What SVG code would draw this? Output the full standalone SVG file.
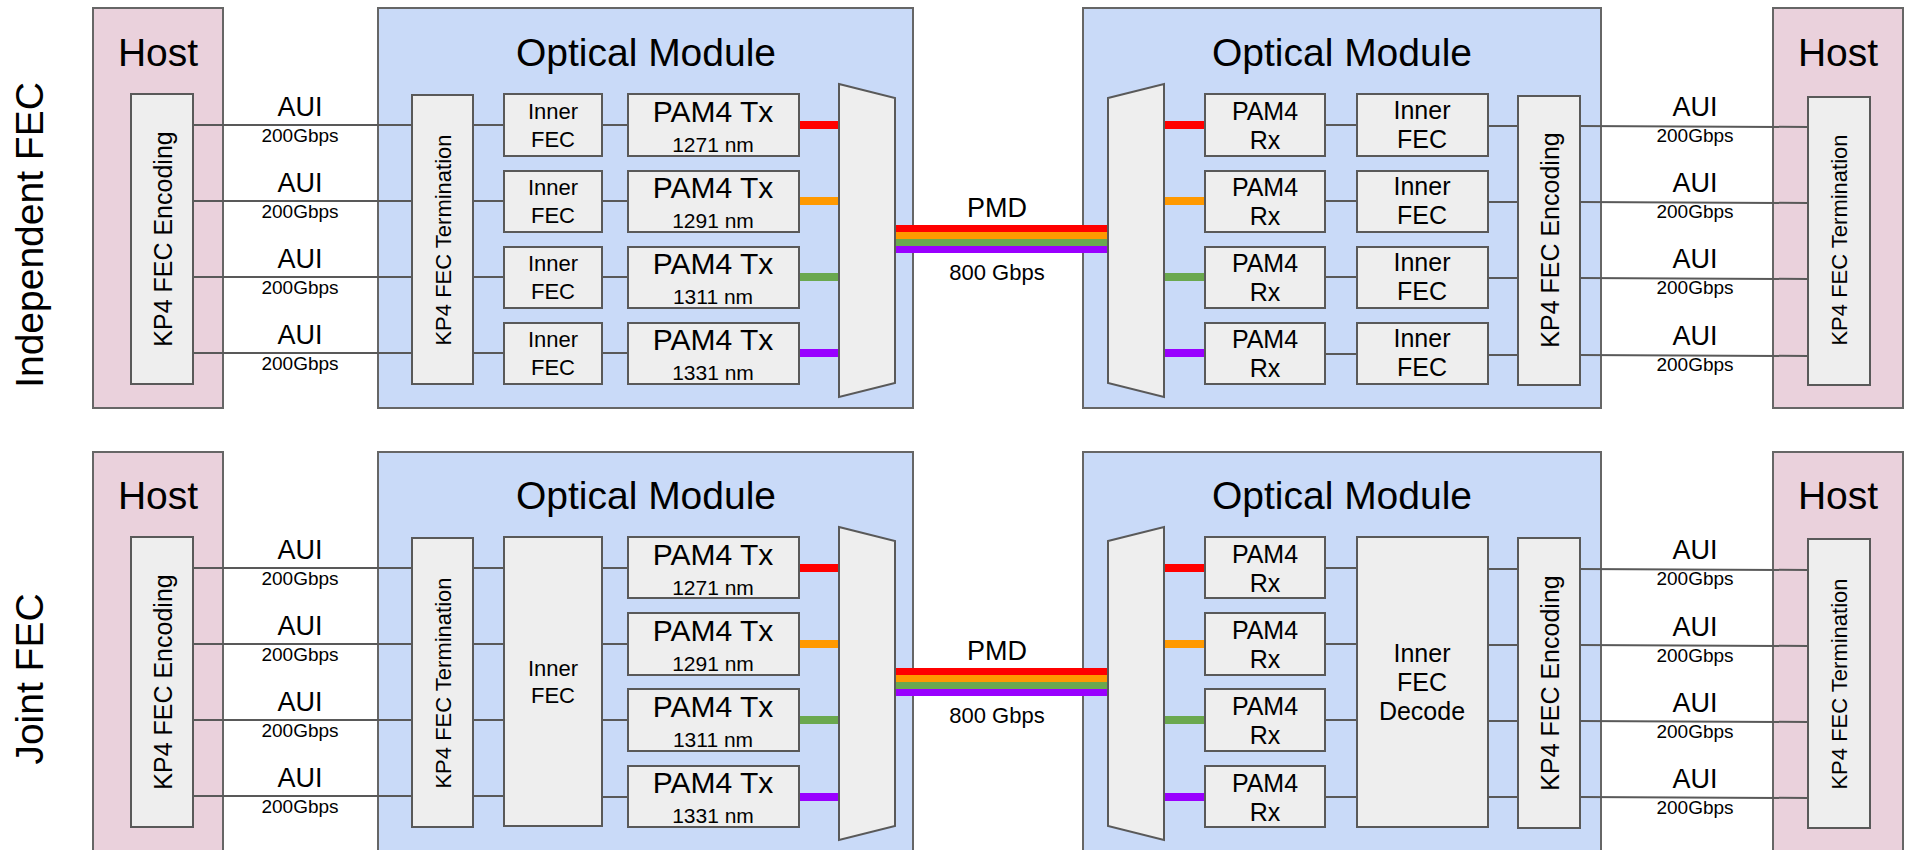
<svg xmlns="http://www.w3.org/2000/svg" width="1906" height="850" viewBox="0 0 1906 850">
<style>
text{font-family:"Liberation Sans",Arial,sans-serif;fill:#000}
.host{fill:#ead1dc;stroke:#666;stroke-width:2}
.mod{fill:#c9daf8;stroke:#666;stroke-width:2}
.box{fill:#eeeeee;stroke:#595959;stroke-width:2}
.ln{stroke:#595959;stroke-width:2;fill:none}
.t39{font-size:39px;text-anchor:middle}
.rot25{font-size:25px;text-anchor:middle}
.rot22{font-size:22px;text-anchor:middle}
.aui{font-size:27px;text-anchor:middle}
.gb{font-size:19px;text-anchor:middle}
.tx{font-size:30px;text-anchor:middle}
.nm{font-size:21px;text-anchor:middle}
.f22{font-size:22px;text-anchor:middle}
.f25{font-size:25px;text-anchor:middle}
.pmd{font-size:27px;text-anchor:middle}
.r{stroke:#ff0000;stroke-width:8}
.o{stroke:#ff9900;stroke-width:8}
.g{stroke:#6aa84f;stroke-width:8}
.p{stroke:#9900ff;stroke-width:8}
</style>
<rect width="1906" height="850" fill="#ffffff"/>

<!-- Section labels -->
<g id="label-independent"><text class="t39" transform="translate(29,235) rotate(-90)" dy="0.35em">Independent FEC</text></g>
<g id="label-joint"><text class="t39" transform="translate(29,679) rotate(-90)" dy="0.35em">Joint FEC</text></g>

<!-- ================= TOP: Independent FEC ================= -->
<g id="top-host-left"><rect class="host" x="93" y="8" width="130" height="400"/><text class="t39" x="158" y="66">Host</text></g>
<g id="top-module-left"><rect class="mod" x="378" y="8" width="535" height="400"/><text class="t39" x="646" y="66">Optical Module</text></g>
<g id="top-module-right"><rect class="mod" x="1083" y="8" width="518" height="400"/><text class="t39" x="1342" y="66">Optical Module</text></g>
<g id="top-host-right"><rect class="host" x="1773" y="8" width="130" height="400"/><text class="t39" x="1838" y="66">Host</text></g>

<g id="top-connectors">
<line class="ln" x1="193" y1="125" x2="412" y2="125"/><line class="ln" x1="193" y1="201" x2="412" y2="201"/><line class="ln" x1="193" y1="277" x2="412" y2="277"/><line class="ln" x1="193" y1="353" x2="412" y2="353"/>
<line class="ln" x1="473" y1="125" x2="504" y2="125"/><line class="ln" x1="473" y1="201" x2="504" y2="201"/><line class="ln" x1="473" y1="277" x2="504" y2="277"/><line class="ln" x1="473" y1="353" x2="504" y2="353"/>
<line class="ln" x1="602" y1="125" x2="628" y2="125"/><line class="ln" x1="602" y1="201" x2="628" y2="201"/><line class="ln" x1="602" y1="277" x2="628" y2="277"/><line class="ln" x1="602" y1="353" x2="628" y2="353"/>
<line class="r" x1="799" y1="125" x2="840" y2="125"/><line class="o" x1="799" y1="201" x2="840" y2="201"/><line class="g" x1="799" y1="277" x2="840" y2="277"/><line class="p" x1="799" y1="353" x2="840" y2="353"/>
<rect x="895" y="225" width="213" height="7" fill="#ff0000"/><rect x="895" y="232" width="213" height="7" fill="#ff9900"/><rect x="895" y="239" width="213" height="7" fill="#6aa84f"/><rect x="895" y="246" width="213" height="7" fill="#9900ff"/>
<line class="r" x1="1163" y1="125" x2="1205" y2="125"/><line class="o" x1="1163" y1="201" x2="1205" y2="201"/><line class="g" x1="1163" y1="277" x2="1205" y2="277"/><line class="p" x1="1163" y1="353" x2="1205" y2="353"/>
<line class="ln" x1="1325" y1="125" x2="1357" y2="125"/><line class="ln" x1="1325" y1="201" x2="1357" y2="201"/><line class="ln" x1="1325" y1="277" x2="1357" y2="277"/><line class="ln" x1="1325" y1="354" x2="1357" y2="354"/>
<line class="ln" x1="1488" y1="126" x2="1518" y2="126"/><line class="ln" x1="1488" y1="202" x2="1518" y2="202"/><line class="ln" x1="1488" y1="278" x2="1518" y2="278"/><line class="ln" x1="1488" y1="355" x2="1518" y2="355"/>
<line class="ln" x1="1580" y1="126" x2="1808" y2="127"/><line class="ln" x1="1580" y1="202" x2="1808" y2="203"/><line class="ln" x1="1580" y1="278" x2="1808" y2="279"/><line class="ln" x1="1580" y1="355" x2="1808" y2="356"/>
<text class="aui" x="300" y="116">AUI</text><text class="gb" x="300" y="142">200Gbps</text>
<text class="aui" x="300" y="192">AUI</text><text class="gb" x="300" y="218">200Gbps</text>
<text class="aui" x="300" y="268">AUI</text><text class="gb" x="300" y="294">200Gbps</text>
<text class="aui" x="300" y="344">AUI</text><text class="gb" x="300" y="370">200Gbps</text>
<text class="aui" x="1695" y="116">AUI</text><text class="gb" x="1695" y="142">200Gbps</text>
<text class="aui" x="1695" y="192">AUI</text><text class="gb" x="1695" y="218">200Gbps</text>
<text class="aui" x="1695" y="268">AUI</text><text class="gb" x="1695" y="294">200Gbps</text>
<text class="aui" x="1695" y="345">AUI</text><text class="gb" x="1695" y="371">200Gbps</text>
<text class="pmd" x="997" y="217">PMD</text><text class="f22" x="997" y="280">800 Gbps</text>
</g>

<g id="top-kp4-encoding-left"><rect class="box" x="131" y="94" width="62" height="290"/><text class="rot25" transform="translate(163,239) rotate(-90)" dy="0.35em">KP4 FEC Encoding</text></g>
<g id="top-kp4-termination-left"><rect class="box" x="412" y="95" width="61" height="289"/><text class="rot22" transform="translate(443,240) rotate(-90)" dy="0.35em">KP4 FEC Termination</text></g>

<g id="top-inner-fec-1"><rect class="box" x="504" y="94" width="98" height="62"/><text class="f22" x="553" y="119">Inner</text><text class="f22" x="553" y="147">FEC</text></g>
<g id="top-inner-fec-2"><rect class="box" x="504" y="171" width="98" height="61"/><text class="f22" x="553" y="195">Inner</text><text class="f22" x="553" y="223">FEC</text></g>
<g id="top-inner-fec-3"><rect class="box" x="504" y="247" width="98" height="61"/><text class="f22" x="553" y="271">Inner</text><text class="f22" x="553" y="299">FEC</text></g>
<g id="top-inner-fec-4"><rect class="box" x="504" y="323" width="98" height="61"/><text class="f22" x="553" y="347">Inner</text><text class="f22" x="553" y="375">FEC</text></g>

<g id="top-pam4-tx-1"><rect class="box" x="628" y="94" width="171" height="62"/><text class="tx" x="713" y="122">PAM4 Tx</text><text class="nm" x="713" y="152">1271 nm</text></g>
<g id="top-pam4-tx-2"><rect class="box" x="628" y="171" width="171" height="61"/><text class="tx" x="713" y="198">PAM4 Tx</text><text class="nm" x="713" y="228">1291 nm</text></g>
<g id="top-pam4-tx-3"><rect class="box" x="628" y="247" width="171" height="61"/><text class="tx" x="713" y="274">PAM4 Tx</text><text class="nm" x="713" y="304">1311 nm</text></g>
<g id="top-pam4-tx-4"><rect class="box" x="628" y="323" width="171" height="61"/><text class="tx" x="713" y="350">PAM4 Tx</text><text class="nm" x="713" y="380">1331 nm</text></g>

<g id="top-mux"><polygon class="box" points="839,84 895,98 895,383 839,397"/></g>
<g id="top-demux"><polygon class="box" points="1108,98 1164,84 1164,397 1108,383"/></g>

<g id="top-pam4-rx-1"><rect class="box" x="1205" y="94" width="120" height="62"/><text class="f25" x="1265" y="120">PAM4</text><text class="f25" x="1265" y="149">Rx</text></g>
<g id="top-pam4-rx-2"><rect class="box" x="1205" y="171" width="120" height="61"/><text class="f25" x="1265" y="196">PAM4</text><text class="f25" x="1265" y="225">Rx</text></g>
<g id="top-pam4-rx-3"><rect class="box" x="1205" y="247" width="120" height="61"/><text class="f25" x="1265" y="272">PAM4</text><text class="f25" x="1265" y="301">Rx</text></g>
<g id="top-pam4-rx-4"><rect class="box" x="1205" y="323" width="120" height="61"/><text class="f25" x="1265" y="348">PAM4</text><text class="f25" x="1265" y="377">Rx</text></g>

<g id="top-inner-fec-r1"><rect class="box" x="1357" y="94" width="131" height="62"/><text class="f25" x="1422" y="119">Inner</text><text class="f25" x="1422" y="148">FEC</text></g>
<g id="top-inner-fec-r2"><rect class="box" x="1357" y="171" width="131" height="61"/><text class="f25" x="1422" y="195">Inner</text><text class="f25" x="1422" y="224">FEC</text></g>
<g id="top-inner-fec-r3"><rect class="box" x="1357" y="247" width="131" height="61"/><text class="f25" x="1422" y="271">Inner</text><text class="f25" x="1422" y="300">FEC</text></g>
<g id="top-inner-fec-r4"><rect class="box" x="1357" y="323" width="131" height="61"/><text class="f25" x="1422" y="347">Inner</text><text class="f25" x="1422" y="376">FEC</text></g>

<g id="top-kp4-encoding-right"><rect class="box" x="1518" y="96" width="62" height="289"/><text class="rot25" transform="translate(1550,240) rotate(-90)" dy="0.35em">KP4 FEC Encoding</text></g>
<g id="top-kp4-termination-right"><rect class="box" x="1808" y="97" width="62" height="288"/><text class="rot22" transform="translate(1839,240) rotate(-90)" dy="0.35em">KP4 FEC Termination</text></g>

<!-- ================= BOTTOM: Joint FEC ================= -->
<g id="bot-host-left"><rect class="host" x="93" y="452" width="130" height="410"/><text class="t39" x="158" y="509">Host</text></g>
<g id="bot-module-left"><rect class="mod" x="378" y="452" width="535" height="410"/><text class="t39" x="646" y="509">Optical Module</text></g>
<g id="bot-module-right"><rect class="mod" x="1083" y="452" width="518" height="410"/><text class="t39" x="1342" y="509">Optical Module</text></g>
<g id="bot-host-right"><rect class="host" x="1773" y="452" width="130" height="410"/><text class="t39" x="1838" y="509">Host</text></g>

<g id="bot-connectors">
<line class="ln" x1="193" y1="568" x2="412" y2="568"/><line class="ln" x1="193" y1="644" x2="412" y2="644"/><line class="ln" x1="193" y1="720" x2="412" y2="720"/><line class="ln" x1="193" y1="796" x2="412" y2="796"/>
<line class="ln" x1="473" y1="568" x2="504" y2="568"/><line class="ln" x1="473" y1="644" x2="504" y2="644"/><line class="ln" x1="473" y1="720" x2="504" y2="720"/><line class="ln" x1="473" y1="796" x2="504" y2="796"/>
<line class="ln" x1="602" y1="568" x2="628" y2="568"/><line class="ln" x1="602" y1="644" x2="628" y2="644"/><line class="ln" x1="602" y1="720" x2="628" y2="720"/><line class="ln" x1="602" y1="797" x2="628" y2="797"/>
<line class="r" x1="799" y1="568" x2="840" y2="568"/><line class="o" x1="799" y1="644" x2="840" y2="644"/><line class="g" x1="799" y1="720" x2="840" y2="720"/><line class="p" x1="799" y1="797" x2="840" y2="797"/>
<rect x="895" y="668" width="213" height="7" fill="#ff0000"/><rect x="895" y="675" width="213" height="7" fill="#ff9900"/><rect x="895" y="682" width="213" height="7" fill="#6aa84f"/><rect x="895" y="689" width="213" height="7" fill="#9900ff"/>
<line class="r" x1="1163" y1="568" x2="1205" y2="568"/><line class="o" x1="1163" y1="644" x2="1205" y2="644"/><line class="g" x1="1163" y1="720" x2="1205" y2="720"/><line class="p" x1="1163" y1="797" x2="1205" y2="797"/>
<line class="ln" x1="1325" y1="568" x2="1357" y2="568"/><line class="ln" x1="1325" y1="644" x2="1357" y2="644"/><line class="ln" x1="1325" y1="720" x2="1357" y2="720"/><line class="ln" x1="1325" y1="797" x2="1357" y2="797"/>
<line class="ln" x1="1488" y1="569" x2="1518" y2="569"/><line class="ln" x1="1488" y1="645" x2="1518" y2="645"/><line class="ln" x1="1488" y1="721" x2="1518" y2="721"/><line class="ln" x1="1488" y1="797" x2="1518" y2="797"/>
<line class="ln" x1="1580" y1="569" x2="1808" y2="570"/><line class="ln" x1="1580" y1="645" x2="1808" y2="646"/><line class="ln" x1="1580" y1="721" x2="1808" y2="722"/><line class="ln" x1="1580" y1="797" x2="1808" y2="798"/>
<text class="aui" x="300" y="559">AUI</text><text class="gb" x="300" y="585">200Gbps</text>
<text class="aui" x="300" y="635">AUI</text><text class="gb" x="300" y="661">200Gbps</text>
<text class="aui" x="300" y="711">AUI</text><text class="gb" x="300" y="737">200Gbps</text>
<text class="aui" x="300" y="787">AUI</text><text class="gb" x="300" y="813">200Gbps</text>
<text class="aui" x="1695" y="559">AUI</text><text class="gb" x="1695" y="585">200Gbps</text>
<text class="aui" x="1695" y="636">AUI</text><text class="gb" x="1695" y="662">200Gbps</text>
<text class="aui" x="1695" y="712">AUI</text><text class="gb" x="1695" y="738">200Gbps</text>
<text class="aui" x="1695" y="788">AUI</text><text class="gb" x="1695" y="814">200Gbps</text>
<text class="pmd" x="997" y="660">PMD</text><text class="f22" x="997" y="723">800 Gbps</text>
</g>

<g id="bot-kp4-encoding-left"><rect class="box" x="131" y="537" width="62" height="290"/><text class="rot25" transform="translate(163,682) rotate(-90)" dy="0.35em">KP4 FEC Encoding</text></g>
<g id="bot-kp4-termination-left"><rect class="box" x="412" y="538" width="61" height="289"/><text class="rot22" transform="translate(443,683) rotate(-90)" dy="0.35em">KP4 FEC Termination</text></g>

<g id="bot-inner-fec"><rect class="box" x="504" y="537" width="98" height="289"/><text class="f22" x="553" y="676">Inner</text><text class="f22" x="553" y="703">FEC</text></g>

<g id="bot-pam4-tx-1"><rect class="box" x="628" y="537" width="171" height="61"/><text class="tx" x="713" y="565">PAM4 Tx</text><text class="nm" x="713" y="595">1271 nm</text></g>
<g id="bot-pam4-tx-2"><rect class="box" x="628" y="613" width="171" height="62"/><text class="tx" x="713" y="641">PAM4 Tx</text><text class="nm" x="713" y="671">1291 nm</text></g>
<g id="bot-pam4-tx-3"><rect class="box" x="628" y="689" width="171" height="62"/><text class="tx" x="713" y="717">PAM4 Tx</text><text class="nm" x="713" y="747">1311 nm</text></g>
<g id="bot-pam4-tx-4"><rect class="box" x="628" y="766" width="171" height="61"/><text class="tx" x="713" y="793">PAM4 Tx</text><text class="nm" x="713" y="823">1331 nm</text></g>

<g id="bot-mux"><polygon class="box" points="839,527 895,541 895,826 839,840"/></g>
<g id="bot-demux"><polygon class="box" points="1108,541 1164,527 1164,840 1108,826"/></g>

<g id="bot-pam4-rx-1"><rect class="box" x="1205" y="537" width="120" height="61"/><text class="f25" x="1265" y="563">PAM4</text><text class="f25" x="1265" y="592">Rx</text></g>
<g id="bot-pam4-rx-2"><rect class="box" x="1205" y="613" width="120" height="62"/><text class="f25" x="1265" y="639">PAM4</text><text class="f25" x="1265" y="668">Rx</text></g>
<g id="bot-pam4-rx-3"><rect class="box" x="1205" y="689" width="120" height="62"/><text class="f25" x="1265" y="715">PAM4</text><text class="f25" x="1265" y="744">Rx</text></g>
<g id="bot-pam4-rx-4"><rect class="box" x="1205" y="766" width="120" height="61"/><text class="f25" x="1265" y="792">PAM4</text><text class="f25" x="1265" y="821">Rx</text></g>

<g id="bot-inner-fec-decode"><rect class="box" x="1357" y="537" width="131" height="290"/><text class="f25" x="1422" y="662">Inner</text><text class="f25" x="1422" y="691">FEC</text><text class="f25" x="1422" y="720">Decode</text></g>

<g id="bot-kp4-encoding-right"><rect class="box" x="1518" y="538" width="62" height="290"/><text class="rot25" transform="translate(1550,683) rotate(-90)" dy="0.35em">KP4 FEC Encoding</text></g>
<g id="bot-kp4-termination-right"><rect class="box" x="1808" y="539" width="62" height="289"/><text class="rot22" transform="translate(1839,684) rotate(-90)" dy="0.35em">KP4 FEC Termination</text></g>
</svg>
